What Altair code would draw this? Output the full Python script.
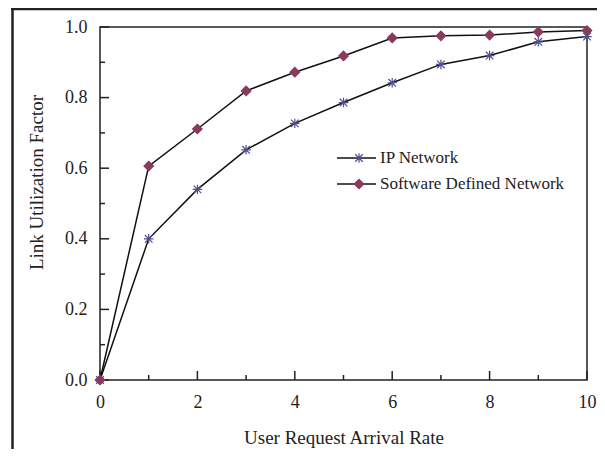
import altair as alt
import pandas as pd

# ---- data ----
rate = [0, 1, 2, 3, 4, 5, 6, 7, 8, 9, 10]
ip_network = [0.0, 0.40, 0.54, 0.652, 0.727, 0.786, 0.842, 0.894, 0.919, 0.958, 0.973]
sdn_network = [0.0, 0.606, 0.711, 0.819, 0.872, 0.918, 0.969, 0.975, 0.977, 0.986, 0.990]
series_names = ["IP Network", "Software Defined Network"]

x_major = [0, 2, 4, 6, 8, 10]
x_minor = [1, 3, 5, 7, 9]
y_major = [0.0, 0.2, 0.4, 0.6, 0.8, 1.0]
y_minor = [0.1, 0.3, 0.5, 0.7, 0.9]

rows = []
for name, vals in zip(series_names, [ip_network, sdn_network]):
    for r, v in zip(rate, vals):
        rows.append({"rate": r, "value": v, "series": name, "series_pt": name})
df = pd.DataFrame(rows)

W, H = 487, 353
FONT = "Liberation Serif"
INK = "#222222"
IP_COLOR = "#4f4f8f"
SDN_COLOR = "#8a3a5c"
ASTERISK = "M0,-1L0,1M-0.8,-0.8L0.8,0.8M-0.8,0.8L0.8,-0.8M-1,0L1,0"

x_scale = alt.Scale(domain=[0, 10], nice=False, zero=False)
y_scale = alt.Scale(domain=[0, 1], nice=False, zero=False)

x_axis = alt.Axis(values=x_major, title="User Request Arrival Rate", domain=False, ticks=False,
                  grid=False, labelPadding=13, labelFlush=False, labelOverlap=False,
                  titleY=57, titleBaseline="middle", titleFontSize=19)
y_axis = alt.Axis(values=y_major, format=".1f", title="Link Utilization Factor", domain=False,
                  ticks=False, grid=False, labelPadding=13, labelFlush=False, labelOverlap=False,
                  titleX=-64, titleY=155, titleAngle=270, titleAlign="center",
                  titleBaseline="middle", titleFontSize=19)

X = lambda f: alt.X(f, scale=x_scale, axis=x_axis)
Y = lambda f: alt.Y(f, scale=y_scale, axis=y_axis)

# inward tick marks
xt_major = alt.Chart(pd.DataFrame({"t": x_major})).mark_rule(color=INK, strokeWidth=1.5).encode(
    x=X("t:Q"), y=alt.value(H), y2=alt.value(H - 9))
xt_minor = alt.Chart(pd.DataFrame({"t": x_minor})).mark_rule(color=INK, strokeWidth=1.5).encode(
    x=X("t:Q"), y=alt.value(H), y2=alt.value(H - 5))
yt_major = alt.Chart(pd.DataFrame({"t": y_major})).mark_rule(color=INK, strokeWidth=1.5).encode(
    y=Y("t:Q"), x=alt.value(0), x2=alt.value(9))
yt_minor = alt.Chart(pd.DataFrame({"t": y_minor})).mark_rule(color=INK, strokeWidth=1.5).encode(
    y=Y("t:Q"), x=alt.value(0), x2=alt.value(5))

lines = alt.Chart(df).mark_line(strokeWidth=1.5).encode(
    x=X("rate:Q"), y=Y("value:Q"), detail="series:N",
    color=alt.Color("series:N", scale=alt.Scale(range=["#111111", "#111111"]),
                    legend=alt.Legend(title=None, orient="none", legendX=236, legendY=122.5,
                                      symbolType="stroke", symbolSize=1521, symbolStrokeWidth=1.5,
                                      labelFontSize=17, labelFont=FONT, labelColor=INK,
                                      labelLimit=400, labelOffset=3, clipHeight=17,
                                      rowPadding=8, padding=0, zindex=1)))

pt_legend = alt.Legend(title=None, orient="none", legendX=250.5, legendY=122.5,
                       symbolSize=90, symbolStrokeWidth=1.2, labelExpr="''",
                       labelFontSize=17, clipHeight=17, rowPadding=8, padding=0, zindex=2)
points = alt.Chart(df).mark_point(size=90, strokeWidth=1.2, opacity=1).encode(
    x=X("rate:Q"), y=Y("value:Q"),
    shape=alt.Shape("series_pt:N", scale=alt.Scale(range=[ASTERISK, "diamond"]), legend=pt_legend),
    fill=alt.Fill("series_pt:N", scale=alt.Scale(range=["transparent", SDN_COLOR]), legend=pt_legend),
    stroke=alt.Stroke("series_pt:N", scale=alt.Scale(range=[IP_COLOR, SDN_COLOR]), legend=pt_legend),
)

# outer figure border (left and top edges of the surrounding box)
border_left = alt.Chart(alt.Data(values=[{}])).mark_rule(color=INK, strokeWidth=2.5).encode(
    x=alt.value(-87.5), y=alt.value(-19), y2=alt.value(H + 69))
border_top = alt.Chart(alt.Data(values=[{}])).mark_rule(color=INK, strokeWidth=2.5).encode(
    x=alt.value(-89), x2=alt.value(W + 10), y=alt.value(-18))

chart = alt.layer(
    xt_major, xt_minor, yt_major, yt_minor, lines, points, border_left, border_top
).properties(
    width=W, height=H,
    autosize=alt.AutoSizeParams(type="none"),
    padding={"left": 92, "top": 19, "right": 10, "bottom": 69},
).configure(
    font=FONT,
).configure_view(
    stroke=INK, strokeWidth=1.5,
).configure_axis(
    labelFont=FONT, titleFont=FONT, labelFontSize=18, titleFontSize=19,
    labelColor=INK, titleColor=INK, titleFontWeight="normal",
).configure_legend(
    labelFont=FONT, labelColor=INK,
)

chart.save("out.html", embed_options={"renderer": "svg", "actions": False})
